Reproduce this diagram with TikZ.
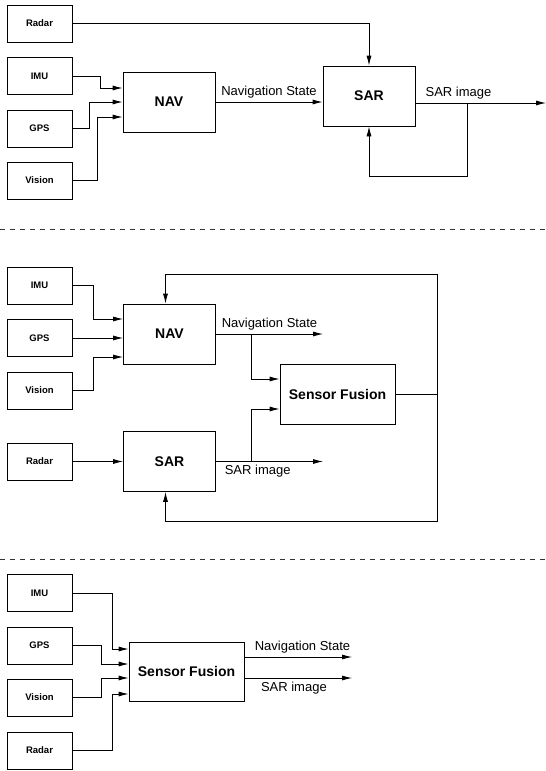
\documentclass[tikz,border=0pt]{standalone}
\usepackage{fontspec}
\setmainfont{Liberation Sans}
\usetikzlibrary{arrows.meta, positioning, calc}

\begin{document}
\begin{tikzpicture}[x=1pt, y=-1pt, line width=0.8pt, >={Latex[length=10pt,width=5pt]},
  sensor/.style={draw, minimum width=65pt, minimum height=37pt, font=\fontsize{9.5}{11}\selectfont\bfseries},
  block/.style={draw, minimum width=92pt, minimum height=60pt, font=\fontsize{14}{16}\selectfont\bfseries},
  fusion/.style={block, minimum width=115pt},
  lbl/.style={font=\fontsize{13}{15}\selectfont},
  sepline/.style={dashed, dash pattern=on 5pt off 5pt, line width=0.7pt, black!80}]
\useasboundingbox (0,0) rectangle (546,771);

% NAV feeds SAR
\node[sensor] (radarA) at (39.5,23.5) {Radar};
\node[sensor] (imuA) at (39.5,76) {IMU};
\node[sensor] (gpsA) at (39.5,128.5) {GPS};
\node[sensor] (visA) at (39.5,180.5) {Vision};
\node[block] (navA) at (169,102) {NAV};
\node[block] (sarA) at (369,96) {SAR};
\coordinate (tapA) at (467,103);
\coordinate (outA) at (546,103);

\draw[->] (radarA) -| (sarA);
\draw[->] (imuA.east) -- ++(28,0) |- ($(navA.west)+(0,-14)$);
\draw[->] (gpsA.east) -- ++(17,0) |- (navA.west);
\draw[->] (visA.east) -- ++(25,0) |- ($(navA.west)+(0,15)$);
\draw[->] (navA) -- (navA -| sarA.west) node[midway, above, lbl] {Navigation State};
\draw[->] ($(sarA.east)+(0,7)$) -- (outA) node[pos=0.33, above, lbl] {SAR image};
\draw[->] (tapA) -- ++(0,73) -| (sarA.south);

\draw[sepline] (0,229.5) -- (546,229.5);

% NAV and SAR side by side, fused
\node[sensor] (imuB) at (39.5,285.5) {IMU};
\node[sensor] (gpsB) at (39.5,338) {GPS};
\node[sensor] (visB) at (39.5,390.5) {Vision};
\node[sensor] (radarB) at (39.5,461.5) {Radar};
\node[block] (navB) at (169.5,334) {NAV};
\node[block] (sarB) at (169.5,461.5) {SAR};
\node[fusion] (fusB) at (337.5,394) {Sensor Fusion};
\coordinate (navOutB) at (323,334);
\coordinate (sarOutB) at (323,461.5);
\coordinate (busB) at (437,394);
\coordinate (topB) at (437,274);
\coordinate (botB) at (437,521);

\draw[->] (imuB.east) -- ++(21,0) |- ($(navB.west)+(0,-15)$);
\draw[->] (gpsB) -- (gpsB -| navB.west);
\draw[->] (visB.east) -- ++(21,0) |- ($(navB.west)+(0,23)$);
\draw[->] (radarB) -- (sarB);
\draw[->] (navB) -- (navOutB) node[midway, above, lbl] {Navigation State};
\draw[->] (sarB) -- (sarOutB) node[pos=0.39, below, lbl] {SAR image};
\draw[->] ($(navB.east)+(35,0)$) |- ($(fusB.west)+(0,-15)$);
\draw[->] ($(sarB.east)+(35,0)$) |- ($(fusB.west)+(0,15)$);
\draw[->] (fusB) -- (busB) -- (topB) -| ($(navB.north)+(-4,0)$);
\draw[->] (busB) -- (botB) -| ($(sarB.south)+(-4,0)$);

\draw[sepline] (0,559) -- (546,559);

% one fusion block
\node[sensor] (imuC) at (39.5,593) {IMU};
\node[sensor] (gpsC) at (39.5,645.5) {GPS};
\node[sensor] (visC) at (39.5,697.5) {Vision};
\node[sensor] (radarC) at (39.5,750.5) {Radar};
\node[fusion, minimum height=59pt] (fusC) at (186.5,671.5) {Sensor Fusion};
\coordinate (navOutC) at (352,657);
\coordinate (sarOutC) at (352,678);

\draw[->] (imuC.east) -- ++(40,0) |- ($(fusC.west)+(0,-22.5)$);
\draw[->] (gpsC.east) -- ++(29,0) |- ($(fusC.west)+(0,-7.5)$);
\draw[->] (visC.east) -- ++(29,0) |- ($(fusC.west)+(0,6.5)$);
\draw[->] (radarC.east) -- ++(40,0) |- ($(fusC.west)+(0,22.5)$);
\draw[->] (fusC.east |- navOutC) -- (navOutC) node[pos=0.54, above, lbl] {Navigation State};
\draw[->] (fusC.east |- sarOutC) -- (sarOutC) node[pos=0.46, below, lbl] {SAR image};
\end{tikzpicture}
\end{document}
